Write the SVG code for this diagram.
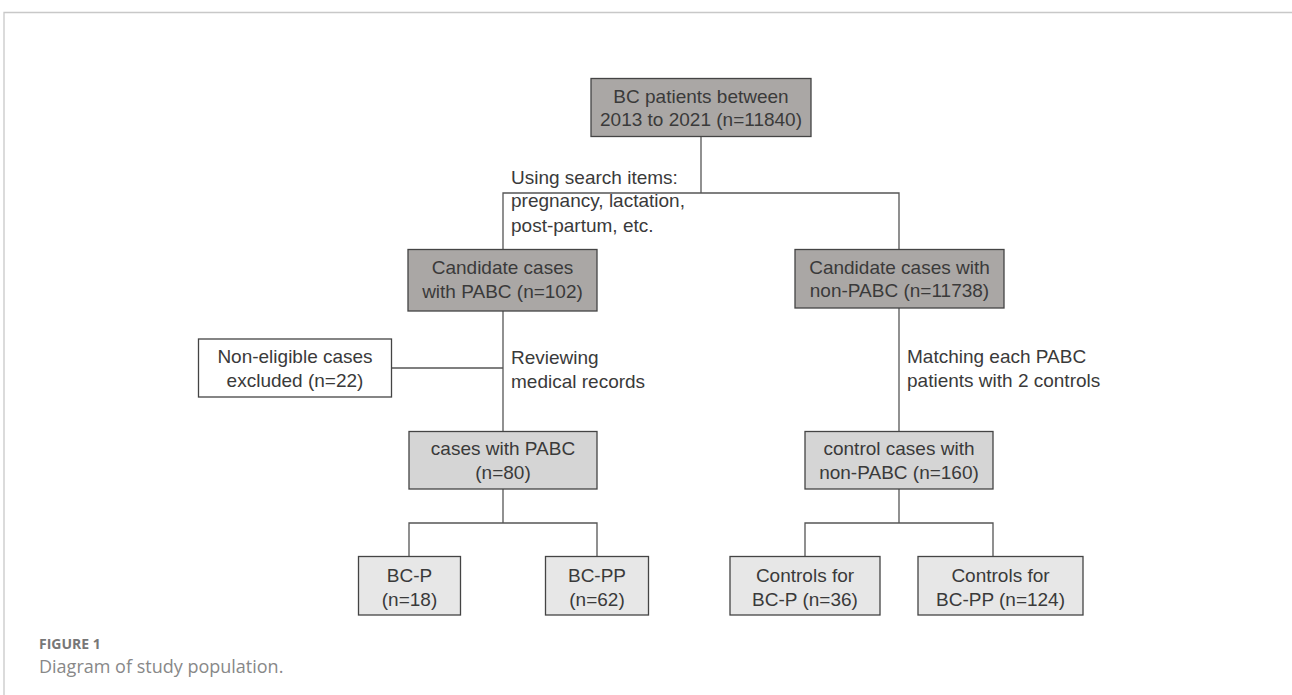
<svg xmlns="http://www.w3.org/2000/svg" width="1292" height="695" viewBox="0 0 1292 695">
<style>
.t{font-family:"Liberation Sans",Arial,sans-serif;font-size:19px;fill:#3a3a3a;}
.c{text-anchor:middle;}
.dk{fill:#aaa7a5;stroke:#444;stroke-width:1.3;}
.md{fill:#d5d5d5;stroke:#444;stroke-width:1.3;}
.lt{fill:#e7e7e7;stroke:#444;stroke-width:1.3;}
.wh{fill:#fff;stroke:#444;stroke-width:1.3;}
.ln{fill:none;stroke:#555;stroke-width:1.3;}
.cap1{font-family:"Open Sans","Liberation Sans",sans-serif;font-size:14px;font-weight:bold;fill:#777;}
.cap2{font-family:"Open Sans","Liberation Sans",sans-serif;font-size:18px;fill:#888;}
</style>
<rect width="1292" height="695" fill="#fff"/>
<path d="M4 695 V12.5 H1292" fill="none" stroke="#c8c8c8" stroke-width="1.3"/>
<g id="connectors" class="ln">
<path d="M701 136 V193"/>
<path d="M503 249 V193 H899 V249"/>
<path d="M503 311 V431.5"/>
<path d="M391 368 H503"/>
<path d="M899 308 V431.5"/>
<path d="M503 489 V523"/>
<path d="M409 556.5 V523 H597 V556.5"/>
<path d="M899 489 V523"/>
<path d="M805 556.5 V523 H993 V556.5"/>
</g>
<g id="labels" class="t">
<text x="511" y="184">Using search items:</text>
<text x="511" y="207">pregnancy, lactation,</text>
<text x="511" y="232">post-partum, etc.</text>
<text x="511" y="364">Reviewing</text>
<text x="511" y="388">medical records</text>
<text x="907" y="363">Matching each PABC</text>
<text x="907" y="387">patients with 2 controls</text>
</g>
<g id="n_all">
<rect class="dk" x="591" y="78.5" width="220" height="58"/>
<text class="t c" x="701" y="102.5">BC patients between</text>
<text class="t c" x="701" y="126">2013 to 2021 (n=11840)</text>
</g>
<g id="n_cand_pabc">
<rect class="dk" x="408" y="249.5" width="189" height="61.5"/>
<text class="t c" x="502.5" y="274">Candidate cases</text>
<text class="t c" x="502.5" y="298">with PABC (n=102)</text>
</g>
<g id="n_cand_non">
<rect class="dk" x="795" y="249.5" width="209" height="58.5"/>
<text class="t c" x="899.5" y="273.5">Candidate cases with</text>
<text class="t c" x="899.5" y="297">non-PABC (n=11738)</text>
</g>
<g id="n_excl">
<rect class="wh" x="198.5" y="339" width="193" height="58"/>
<text class="t c" x="295" y="363">Non-eligible cases</text>
<text class="t c" x="295" y="387">excluded (n=22)</text>
</g>
<g id="n_pabc">
<rect class="md" x="409" y="431.5" width="188" height="57.5"/>
<text class="t c" x="503" y="455">cases with PABC</text>
<text class="t c" x="503" y="479">(n=80)</text>
</g>
<g id="n_ctrl">
<rect class="md" x="805" y="431.5" width="188" height="57.5"/>
<text class="t c" x="899" y="455">control cases with</text>
<text class="t c" x="899" y="479">non-PABC (n=160)</text>
</g>
<g id="n_bcp">
<rect class="lt" x="358.5" y="556.5" width="102" height="58.5"/>
<text class="t c" x="409.5" y="582">BC-P</text>
<text class="t c" x="409.5" y="606">(n=18)</text>
</g>
<g id="n_bcpp">
<rect class="lt" x="545.5" y="556.5" width="103" height="58.5"/>
<text class="t c" x="597" y="582">BC-PP</text>
<text class="t c" x="597" y="606">(n=62)</text>
</g>
<g id="n_ctrl_bcp">
<rect class="lt" x="730" y="556.5" width="150" height="58.5"/>
<text class="t c" x="805" y="582">Controls for</text>
<text class="t c" x="805" y="606">BC-P (n=36)</text>
</g>
<g id="n_ctrl_bcpp">
<rect class="lt" x="918" y="556.5" width="165" height="58.5"/>
<text class="t c" x="1000.5" y="582">Controls for</text>
<text class="t c" x="1000.5" y="606">BC-PP (n=124)</text>
</g>
<text class="cap1" x="39" y="649">FIGURE 1</text>
<text class="cap2" x="39" y="673">Diagram of study population.</text>
</svg>
